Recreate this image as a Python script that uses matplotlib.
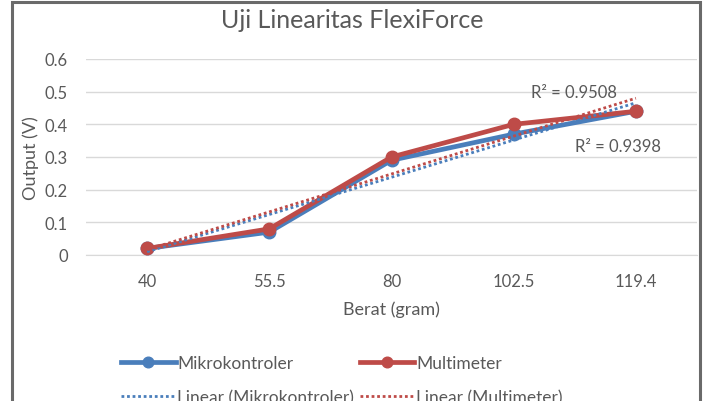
import matplotlib
matplotlib.use("Agg")
import matplotlib.pyplot as plt
import numpy as np
from matplotlib.patches import Rectangle

categories = ["40", "55.5", "80", "102.5", "119.4"]
mikrokontroler = [0.02, 0.07, 0.29, 0.37, 0.44]
multimeter = [0.02, 0.08, 0.30, 0.40, 0.44]
yticks = [0, 0.1, 0.2, 0.3, 0.4, 0.5, 0.6]
ytick_labels = ["0", "0.1", "0.2", "0.3", "0.4", "0.5", "0.6"]
r2_labels = ["R² = 0.9508", "R² = 0.9398"]

plt.rcParams['font.family'] = ['Lato', 'DejaVu Sans']
BLUE = "#4A7EBB"
RED = "#BE4B48"
GRAY = "#595959"

fig = plt.figure(figsize=(7.1, 4.02), dpi=100)
ax = fig.add_axes([86/710, 1-256/402, (697-86)/710, (256-60)/402])

x = np.arange(len(categories))

# trendlines
for vals, col, lab in [(mikrokontroler, BLUE, "Linear (Mikrokontroler)"),
                       (multimeter, RED, "Linear (Multimeter)")]:
    p = np.polyfit(x, vals, 1)
    ax.plot(x, np.polyval(p, x), linestyle=(0, (1, 1)), color=col, lw=2.0,
            label=lab, zorder=4)

ax.plot(x, mikrokontroler, color=BLUE, lw=3.4, marker='o', ms=9,
        label="Mikrokontroler", zorder=3)
ax.plot(x, multimeter, color=RED, lw=3.4, marker='o', ms=9,
        label="Multimeter", zorder=3)

ax.set_xlim(-0.5, len(categories) - 0.5)
ax.set_ylim(0, 0.6)
ax.set_xticks(x)
ax.set_xticklabels(categories)
ax.set_yticks(yticks)
ax.set_yticklabels(ytick_labels)
ax.tick_params(length=0, labelsize=12, labelcolor=GRAY)
ax.tick_params(axis='y', pad=13)
ax.tick_params(axis='x', pad=13)
ax.grid(axis='y', color='#D9D9D9', lw=1)
ax.set_axisbelow(True)
for s in ['top', 'right', 'left']:
    ax.spines[s].set_visible(False)
ax.spines['bottom'].set_color('#D9D9D9')

ax.set_xlabel("Berat (gram)", fontsize=13, color=GRAY, labelpad=8)
ax.set_ylabel("Output (V)", fontsize=13, color=GRAY, labelpad=4)

ax.text(3.49, 0.498, r2_labels[0], fontsize=12, color=GRAY, ha='center', va='center')
ax.text(3.85, 0.334, r2_labels[1], fontsize=12, color=GRAY, ha='center', va='center')

fig.text(352/710, 1-21/402, "Uji Linearitas FlexiForce", fontsize=18,
         color=GRAY, ha='center', va='center')

h, l = ax.get_legend_handles_labels()
order = [2, 0, 3, 1]
leg = fig.legend([h[i] for i in order], [l[i] for i in order], ncol=2,
                 loc='upper left', bbox_to_anchor=(121/710, 1-356/402),
                 frameon=False, fontsize=12.5, handlelength=3.15,
                 handletextpad=0.1, columnspacing=0.3, labelspacing=1.05,
                 borderaxespad=0, borderpad=0, markerscale=0.85)
for t in leg.get_texts():
    t.set_color(GRAY)

fig.patches.append(Rectangle((12/710, -0.05), (700-12)/710, 1.05-3/402,
                             transform=fig.transFigure, fill=False,
                             edgecolor='#6a6a6a', lw=2.2))

fig.savefig("out.png", dpi=100)
